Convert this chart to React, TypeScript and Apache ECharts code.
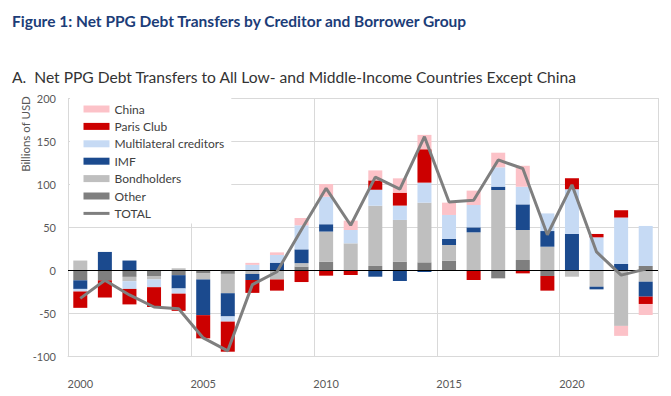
import React, { useEffect, useRef } from "react";
import * as echarts from "echarts";

const years = ["2000","2001","2002","2003","2004","2005","2006","2007","2008","2009","2010","2011","2012","2013","2014","2015","2016","2017","2018","2019","2020","2021","2022","2023"];
const china = [0, 0, 0, 0, 0, 0, 0, 2.3, 3, 8.5, 14.7, 10.9, 11.6, 16.7, 16.7, 14.3, 16.7, 17, 24.4, 0, 0, 0, -11.6, -12.8];
const parisClub = [-19, -20, -18, -23, -20, -27, -35, -15, -13, -14, -6.6, -5.8, 10.9, 15, 38.8, 0, -11.6, 0, -3.9, -17, 12.8, 3.9, 8.5, -8.5];
const multilateral = [-3, 0, -9, -9, -6, 0, -6, 6, 9, 28, 32, 15.5, 18.6, 16.7, 23.3, 27.9, 26, 22.5, 20.5, 20.5, 52, 38, 54, 46.5];
const imf = [-10, 21, 11, 0, -15.5, -41.5, -27, -7, 8.5, 16, 8.5, 0, -7.8, -12.8, -2.3, 7, 5.8, 3.9, 29.8, 18.2, 41.9, -3.1, 7, -17.4];
const bondholders = [11, 0, -5, -4, 2, -7, -22.5, -4.6, -11, 4, 35, 31, 70, 48.5, 69.4, 18.2, 43.8, 93, 34.9, 27.1, -7.8, -19.4, -65, -13.6];
const other = [-12, -12, -8, -7, -6, -4, -4.5, 0, 0, 4, 9.7, 0, 4.7, 9.7, 8.9, 10.9, 0, -9.7, 11.6, -7, 0, 0, 0, 4.7];
const total = [-33, -12, -29, -43, -45, -79, -94, -17, -2, 47, 95, 52, 108, 94, 155, 79, 81, 128, 118, 41, 99, 21, -6, 1];
const yTicks = { min: -100, max: 200, interval: 50 };

const FONT = "Lato, 'Noto Sans', sans-serif";

export default function App() {
  const ref = useRef<HTMLDivElement>(null);
  useEffect(() => {
    const chart = echarts.init(ref.current!, null, { renderer: "svg" });
    const bar = (name: string, data: number[], color: string, extra: any = {}) => ({
      name,
      type: "bar",
      stack: "total",
      data,
      barWidth: 14,
      itemStyle: { color },
      ...extra,
    });
    chart.setOption({
      animation: false,
      backgroundColor: "#fff",
      textStyle: { fontFamily: FONT },
      title: [
        {
          text: "Figure 1: Net PPG Debt Transfers by Creditor and Borrower Group",
          left: 12,
          top: 13,
          padding: 0,
          textStyle: { fontFamily: FONT, fontSize: 15.5, fontWeight: "bold", color: "#1c3d78" },
        },
        {
          text: "A.  Net PPG Debt Transfers to All Low- and Middle-Income Countries Except China",
          left: 12,
          top: 69,
          padding: 0,
          textStyle: { fontFamily: FONT, fontSize: 15.6, fontWeight: "normal", color: "#333" },
        },
      ],
      graphic: [
        {
          type: "text",
          x: 25,
          y: 134,
          rotation: Math.PI / 2,
          style: {
            text: "Billions of USD",
            fontFamily: FONT,
            fontSize: 11.5,
            fill: "#595959",
            align: "center",
            verticalAlign: "middle",
          },
        },
      ],
      legend: {
        orient: "vertical",
        left: 70,
        top: 98,
        padding: [5, 7, 4, 12],
        backgroundColor: "#fff",
        itemWidth: 26,
        itemHeight: 7,
        itemGap: 5.4,
        textStyle: { fontFamily: FONT, fontSize: 12, color: "#404040", lineHeight: 12 },
        data: [
          { name: "China", icon: "rect" },
          { name: "Paris Club", icon: "rect" },
          { name: "Multilateral creditors", icon: "rect" },
          { name: "IMF", icon: "rect" },
          { name: "Bondholders", icon: "rect" },
          { name: "Other", icon: "rect" },
          {
            name: "TOTAL",
            itemStyle: { opacity: 0, color: "rgba(0,0,0,0)", borderColor: "rgba(0,0,0,0)", borderWidth: 0 },
            lineStyle: { color: "#7f7f7f", width: 3, opacity: 1 },
          },
        ],
      },
      grid: { left: 68, right: 13, top: 98, bottom: 40 },
      xAxis: {
        type: "category",
        data: years,
        boundaryGap: true,
        axisLine: { onZero: false, lineStyle: { color: "#d9d9d9" } },
        axisTick: { show: false },
        axisLabel: {
          interval: 4,
          margin: 22,
          fontSize: 11,
          color: "#595959",
          fontFamily: FONT,
        },
        splitLine: {
          show: true,
          interval: (i: number) => i % 5 === 0,
          lineStyle: { color: "#d9d9d9", width: 1 },
        },
      },
      yAxis: {
        type: "value",
        min: yTicks.min,
        max: yTicks.max,
        interval: yTicks.interval,
        axisLine: { show: false },
        axisTick: { show: false },
        axisLabel: { fontSize: 11, color: "#595959", margin: 12, fontFamily: FONT },
        splitLine: { lineStyle: { color: "#d9d9d9", width: 1 } },
      },
      series: [
        bar("Other", other, "#7f7f7f", {
          markLine: {
            silent: true,
            symbol: "none",
            label: { show: false },
            lineStyle: { color: "#000", width: 1, type: "solid" },
            data: [{ yAxis: 0 }],
          },
        }),
        bar("Bondholders", bondholders, "#bfbfbf"),
        bar("IMF", imf, "#1b4a8e"),
        bar("Multilateral creditors", multilateral, "#c6daf4"),
        bar("Paris Club", parisClub, "#cc0000"),
        bar("China", china, "#fcc2c8"),
        {
          name: "TOTAL",
          type: "line",
          data: total,
          symbol: "none",
          z: 5,
          lineStyle: { color: "#7f7f7f", width: 3 },
          itemStyle: { color: "#7f7f7f" },
        },
      ],
    });
    return () => chart.dispose();
  }, []);
  return (
    <div
      ref={ref}
      style={{ position: "fixed", left: 0, top: 0, width: 671, height: 396, background: "#fff" }}
    />
  );
}
